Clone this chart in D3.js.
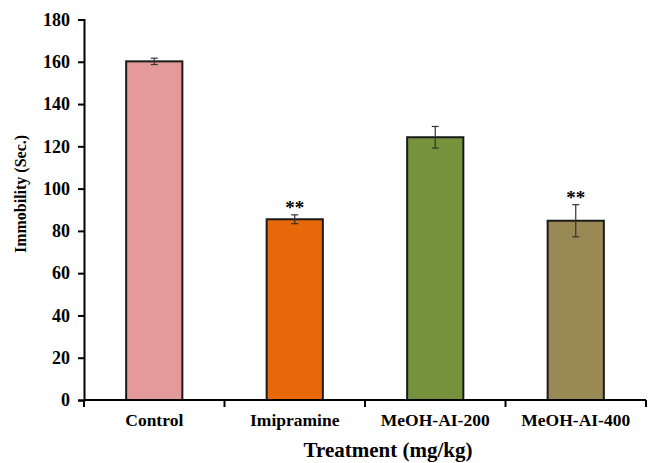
<!DOCTYPE html>
<html><head><meta charset="utf-8">
<script src="https://cdn.jsdelivr.net/npm/d3@7"></script>
<style>body{margin:0;background:#fff}</style>
</head><body>
<svg id="c" width="650" height="463"></svg>
<script>
const categories = ["Control","Imipramine","MeOH-AI-200","MeOH-AI-400"];
const values = [160.2, 85.5, 124.3, 84.8];
const errors = [1.5, 2.1, 5.1, 7.6];
const marks = ["", "**", "", "**"];
const colors = ["#E59A9A","#E8690A","#76923C","#998A55"];
const yTicks = [0,20,40,60,80,100,120,140,160,180];

const svg = d3.select("#c");
const L=84, R=646, T=19.5, B=400;
const x = d3.scaleBand().domain(categories).range([L,R]).paddingInner(0.6).paddingOuter(0.3);
const y = d3.scaleLinear().domain([0,180]).range([B,T]);
const font = "'Liberation Serif','Times New Roman',serif";

// bars
svg.selectAll("rect.bar").data(categories).join("rect")
  .attr("x", d=>x(d)).attr("width", x.bandwidth())
  .attr("y", (d,i)=>y(values[i])).attr("height",(d,i)=>B-y(values[i]))
  .attr("fill",(d,i)=>colors[i]).attr("stroke","#1a1a1a").attr("stroke-width",2);

// error bars
const eg = svg.append("g").attr("stroke","#333").attr("stroke-width",1.2);
categories.forEach((c,i)=>{
  const cx = x(c)+x.bandwidth()/2;
  eg.append("line").attr("x1",cx).attr("x2",cx).attr("y1",y(values[i]+errors[i])).attr("y2",y(values[i]-errors[i]));
  eg.append("line").attr("x1",cx-3.5).attr("x2",cx+3.5).attr("y1",y(values[i]+errors[i])).attr("y2",y(values[i]+errors[i]));
  eg.append("line").attr("x1",cx-3.5).attr("x2",cx+3.5).attr("y1",y(values[i]-errors[i])).attr("y2",y(values[i]-errors[i]));
  if(marks[i]) svg.append("text").attr("x",cx).attr("y",y(values[i]+errors[i])-1)
    .attr("text-anchor","middle").attr("font-family",font).attr("font-weight","bold")
    .attr("font-size",19).text(marks[i]);
});

// y axis
const ya = svg.append("g").attr("transform",`translate(${L},0)`)
  .call(d3.axisLeft(y).tickValues(yTicks).tickSize(6).tickPadding(8));
ya.select(".domain").attr("stroke","#000").attr("stroke-width",2);
ya.selectAll(".tick line").attr("stroke","#000").attr("stroke-width",2);
ya.selectAll("text").attr("font-family",font).attr("font-weight","bold").attr("font-size",18).attr("fill","#000");

// x axis
const xa = svg.append("g").attr("transform",`translate(0,${B})`)
  .call(d3.axisBottom(x).tickSize(0).tickPadding(14));
xa.select(".domain").remove();
xa.selectAll(".tick line").remove();
xa.append("line").attr("x1",L).attr("x2",R).attr("stroke","#000").attr("stroke-width",2);
const bounds = categories.map(c=>x(c)-x.step()*x.paddingInner()/2).concat([R]);
bounds.forEach(b=>xa.append("line").attr("x1",b).attr("x2",b).attr("y1",0).attr("y2",7).attr("stroke","#000").attr("stroke-width",2));
xa.selectAll(".tick text").attr("font-family",font).attr("font-weight","bold").attr("font-size",17.5).attr("fill","#000");

// titles
svg.append("text").attr("transform","translate(26,194) rotate(-90)").attr("text-anchor","middle")
  .attr("font-family",font).attr("font-weight","bold").attr("font-size",16).text("Immobility (Sec.)");
svg.append("text").attr("x",388).attr("y",457).attr("text-anchor","middle")
  .attr("font-family",font).attr("font-weight","bold").attr("font-size",21).text("Treatment (mg/kg)");
</script>
</body></html>
